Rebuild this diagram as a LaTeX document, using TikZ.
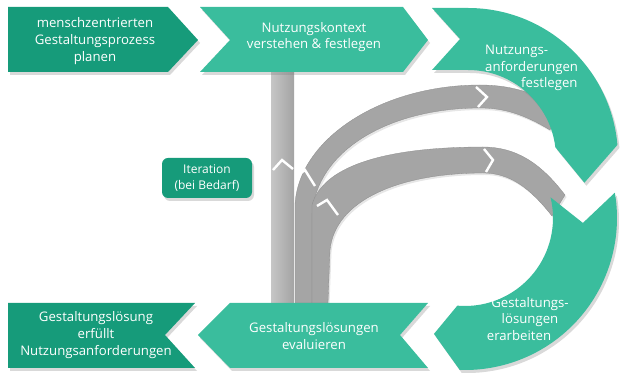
\documentclass[tikz,border=0pt]{standalone}
\usepackage{fontspec}
\setmainfont{Open Sans}
\usetikzlibrary{calc,shadows,positioning}
\definecolor{darkteal}{RGB}{22,155,122}
\definecolor{lightteal}{RGB}{58,189,157}
\definecolor{bandgray}{RGB}{165,165,165}
\begin{document}
\begin{tikzpicture}[x=1pt, y=-1pt,
  boxtext/.style={text=white, align=center, inner sep=0pt, font=\fontsize{13.2}{16.8}\selectfont},
  softshadow/.style={drop shadow={opacity=0.3, shadow xshift=2pt, shadow yshift=-3pt}},
  darkarrow/.style={fill=darkteal, softshadow},
  lightarrow/.style={fill=lightteal, softshadow},
  band/.style={fill=bandgray, draw=gray!90, line width=0.3pt, drop shadow={opacity=0.2, shadow xshift=1.5pt, shadow yshift=-2pt}},
  chevron/.style={draw=white, line width=2.4pt, line join=miter}]
  \useasboundingbox (0,0) rectangle (622,379);
  \coordinate (c1) at (468,158);
  \coordinate (c2) at (465,218);

  \fill[left color=gray!45, right color=gray!72] (271,60) rectangle (294,310);
  \fill[band] (295,303) -- (295,205) .. controls (298,140) and (380,85) .. (480,85)
    .. controls (510,85) and (530,92) .. (560,105) -- (550,130)
    .. controls (525,115) and (505,108) .. (480,108)
    .. controls (390,108) and (316,150) .. (312,215) -- (312,303) -- cycle;
  \fill[band] (312,303) -- (312,205) .. controls (322,168) and (380,147) .. (483,147)
    .. controls (515,147) and (540,162) .. (565,195) -- (552,216)
    .. controls (530,188) and (510,173) .. (483,173)
    .. controls (400,173) and (335,200) .. (330,250) -- (328,303) -- cycle;
  \draw[chevron] (273,170) -- (282,160) -- (293,169);
  \draw[chevron] (297,176) -- (305,170) -- (315,186);
  \draw[chevron] (317,206) -- (327,200) -- (338,215);
  \draw[chevron] (476,87) -- (487,97) -- (478,107);
  \draw[chevron] (484,149) -- (493,160) -- (486,172);

  \fill[darkarrow] (8,7) -- (168,7) -- (198,40) -- (168,72) -- (8,72) -- cycle;
  \fill[lightarrow] (200,7) -- (403,7) -- (428,40) -- (403,72) -- (200,72) -- (230,40) -- cycle;
  \fill[lightarrow] (432,8) -- ($(c1)+(90:150pt)$) arc[start angle=90, end angle=5, radius=150pt]
    -- ($(c1)+(-12:119pt)$) -- ($(c1)+(7:88pt)$) arc[start angle=7, end angle=90, radius=88pt]
    -- (432,70) -- (460,39) -- cycle;
  \fill[lightarrow] ($(c2)+(9.6:152pt)$) arc[start angle=9.6, end angle=-92, radius=152pt]
    -- ($(c2)+(-105:120pt)$) -- ($(c2)+(-95:88pt)$) arc[start angle=-95, end angle=13.6, radius=88pt]
    -- ($(c2)+(-2.4:118pt)$) -- cycle;
  \fill[lightarrow] (230,303) -- (428,303) -- (400,335) -- (428,368) -- (230,368) -- (198,335) -- cycle;
  \fill[darkarrow] (8,303) -- (195,303) -- (165,335) -- (195,368) -- (8,368) -- cycle;

  \node[boxtext] (plan) at (95,41) {menschzentrierten\\Gestaltungsprozess\\planen};
  \node[boxtext] (kontext) at (314,37) {Nutzungskontext\\verstehen \& festlegen};
  \node[boxtext, align=left, anchor=west] (anf) at (485,68) {Nutzungs-\\anforderungen\\\hspace*{36pt}festlegen};
  \node[boxtext] (loes) at (530,319) {Gestaltungs-\\lösungen\\erarbeiten\hspace*{22pt}};
  \node[boxtext] (eval) at (314,336) {Gestaltungslösungen\\evaluieren};
  \node[boxtext] (erf) at (96,335) {Gestaltungslösung\\erfüllt\\Nutzungsanforderungen};
  \node[boxtext, font=\fontsize{12}{16}\selectfont, fill=darkteal, rounded corners=6pt, minimum width=90pt, minimum height=40pt, softshadow] (iter) at (207,178) {Iteration\\(bei Bedarf)};
\end{tikzpicture}
\end{document}
